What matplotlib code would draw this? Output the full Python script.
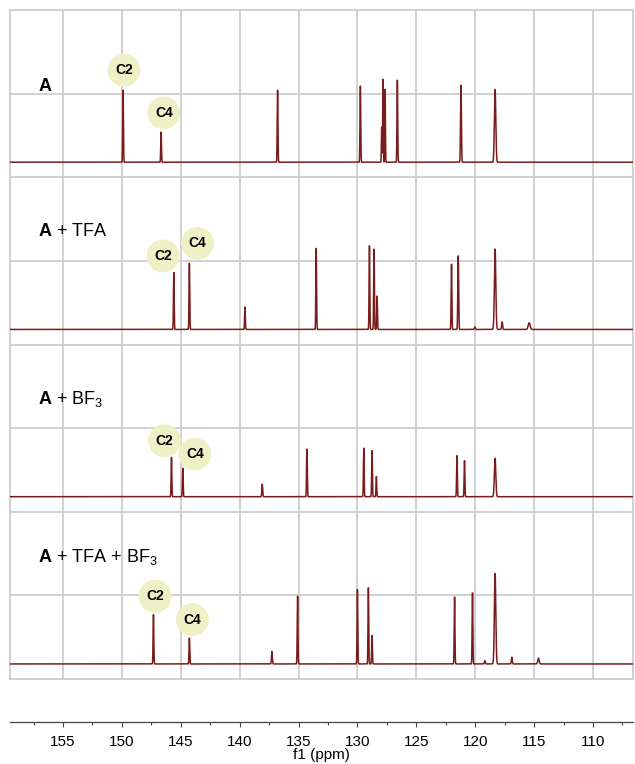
import numpy as np
import matplotlib.pyplot as plt

plt.rcParams['font.family'] = ['Liberation Sans', 'DejaVu Sans']
plt.rcParams['mathtext.fontset'] = 'custom'
plt.rcParams['mathtext.rm'] = 'Liberation Sans'
plt.rcParams['mathtext.bf'] = 'Liberation Sans:bold'

# spectra, top to bottom
names = [r'$\mathbf{A}$', r'$\mathbf{A}$ + TFA', r'$\mathbf{A}$ + BF$_3$',
         r'$\mathbf{A}$ + TFA + BF$_3$']

shifts_a = [149.9, 146.67, 136.78, 129.75, 127.94, 127.83, 127.65, 126.61, 121.21, 118.31]
heights_a = [0.86, 0.36, 0.86, 0.91, 0.42, 0.99, 0.87, 0.98, 0.92, 0.87]
widths_a = [0.03, 0.03, 0.03, 0.03, 0.025, 0.025, 0.025, 0.03, 0.035, 0.06]

shifts_tfa = [145.59, 144.27, 139.55, 133.5, 128.98, 128.59, 128.33, 122.01, 121.44,
              120.03, 118.31, 117.71, 115.42]
heights_tfa = [0.68, 0.79, 0.27, 0.97, 1.0, 0.96, 0.40, 0.78, 0.88, 0.03, 0.96, 0.09, 0.08]
widths_tfa = [0.03, 0.03, 0.03, 0.03, 0.03, 0.03, 0.03, 0.03, 0.035,
              0.04, 0.06, 0.04, 0.08]

shifts_bf3 = [145.79, 144.83, 138.08, 134.29, 129.46, 128.76, 128.39, 121.55, 120.91, 118.31]
heights_bf3 = [0.47, 0.34, 0.15, 0.57, 0.58, 0.55, 0.24, 0.49, 0.43, 0.46]
widths_bf3 = [0.03, 0.03, 0.035, 0.03, 0.03, 0.03, 0.03, 0.03, 0.03, 0.06]

shifts_both = [147.32, 144.27, 137.26, 135.08, 130.0, 129.07, 128.76, 121.75, 120.23,
               119.18, 118.31, 116.89, 114.63]
heights_both = [0.59, 0.31, 0.15, 0.81, 0.89, 0.91, 0.34, 0.80, 0.85, 0.04, 1.08, 0.08, 0.07]
widths_both = [0.03, 0.03, 0.035, 0.03, 0.03, 0.03, 0.03, 0.03, 0.03,
               0.04, 0.06, 0.04, 0.06]

spectra = [(shifts_a, heights_a, widths_a),
           (shifts_tfa, heights_tfa, widths_tfa),
           (shifts_bf3, heights_bf3, widths_bf3),
           (shifts_both, heights_both, widths_both)]

# C2 / C4 bubble positions (ppm, y) per panel
c2_pos = [(149.83, 7.28), (146.5, 5.06), (146.38, 2.85), (147.18, 0.99)]
c4_pos = [(146.44, 6.77), (143.58, 5.21), (143.81, 2.69), (144.01, 0.71)]
name_y = [7.09, 5.35, 3.35, 1.46]
baselines = [6.18, 4.18, 2.18, 0.18]

x_left, x_right = 159.5, 106.6
ppm = np.linspace(x_left, x_right, 40000)

fig = plt.figure(figsize=(6.35, 7.64), dpi=100, facecolor='white')
ax = fig.add_axes([10/635, 1 - 679/764, 623/635, 669/764])
grid_col = '#c9c9c9'
line_col = '#7b1c1c'

for i, (s, h, w) in enumerate(spectra):
    y = np.zeros_like(ppm)
    for c, hh, ww in zip(s, h, w):
        y += hh * np.exp(-0.5 * ((ppm - c) / ww) ** 2)
    ax.plot(ppm, y + baselines[i], color=line_col, lw=1.1, zorder=3)
    ax.text(157.1, name_y[i], names[i], fontsize=13, ha='left', va='center', zorder=4)
    for lab, (cx, cy) in zip(['C2', 'C4'], [c2_pos[i], c4_pos[i]]):
        ax.scatter([cx], [cy], s=560, color='#eef0c6', edgecolors='none', zorder=4)
        ax.text(cx, cy, lab, fontsize=10, fontweight='bold', ha='center',
                va='center', zorder=5)

ax.set_xlim(x_left, x_right)
ax.set_ylim(0, 8)
ax.set_xticks(np.arange(110, 156, 5))
ax.set_yticks(np.arange(1, 8))
ax.grid(True, color=grid_col, lw=1.2, zorder=0)
ax.tick_params(length=0, labelbottom=False, labelleft=False)
for sp in ax.spines.values():
    sp.set_color(grid_col)
    sp.set_linewidth(1.2)

# ppm scale
ax2 = fig.add_axes([10/635, 1 - 722/764, 623/635, 0.0001])
ax2.set_xlim(x_left, x_right)
ax2.set_yticks([])
for k in ['left', 'right', 'top']:
    ax2.spines[k].set_visible(False)
ax2.spines['bottom'].set_color('#444444')
ax2.spines['bottom'].set_linewidth(0.9)
ax2.set_xticks(np.arange(110, 156, 5))
ax2.set_xticks(np.arange(107.5, 159, 5), minor=True)
ax2.tick_params(which='major', length=3.6, width=0.8, color='#444444', labelsize=11, pad=6)
ax2.tick_params(which='minor', length=2, width=0.8, color='#444444')
ax2.set_xlabel('f1 (ppm)', fontsize=11, labelpad=-1)
ax2.patch.set_visible(False)

fig.savefig('out.png', dpi=100)
